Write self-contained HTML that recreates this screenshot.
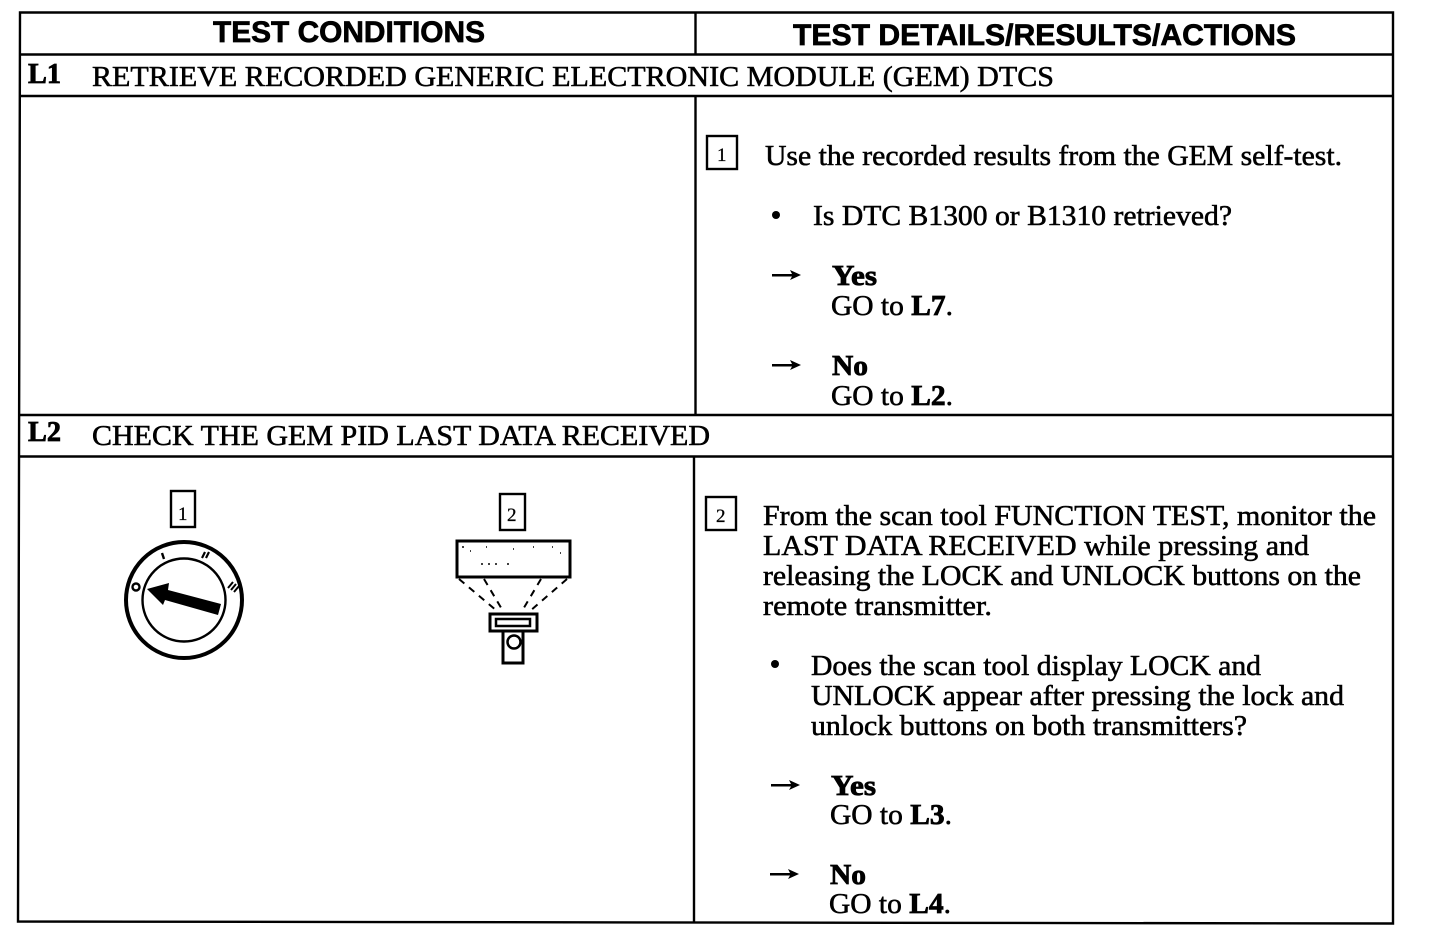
<!DOCTYPE html>
<html><head><meta charset="utf-8"><style>
html,body{margin:0;padding:0;background:#fff}
svg{display:block}
text{font-family:"Liberation Serif",serif;font-size:29px;fill:#000;stroke:#000;stroke-width:.55}
.b{font-weight:bold;stroke-width:.8}
.h{font-family:"Liberation Sans",sans-serif;font-weight:bold;font-size:30px;stroke-width:.7}
.s{font-size:19px;stroke-width:.3}
</style></head><body>
<svg width="1456" height="940" viewBox="0 0 1456 940" xmlns="http://www.w3.org/2000/svg">
<g fill="none" stroke="#000" stroke-width="2.400">
<path d="M20 12.500H1393V923.500L18 921.500Z"/>
<path d="M20 54.500H1393M20 96H1393M19 415H1393M19 456.500H1393"/>
<path d="M695.500 12V54M695.500 96V415M694 456V922"/>
<rect x="707" y="136" width="30" height="33"/>
<rect x="171" y="491" width="24" height="36"/>
<rect x="500" y="494" width="25" height="36"/>
<rect x="706" y="497" width="30" height="33"/>
</g>
<text class="h" x="213" y="42" textLength="272" lengthAdjust="spacingAndGlyphs">TEST CONDITIONS</text>
<text class="h" x="793" y="45" textLength="503" lengthAdjust="spacingAndGlyphs">TEST DETAILS/RESULTS/ACTIONS</text>
<text class="b" x="28" y="83" textLength="33" lengthAdjust="spacingAndGlyphs">L1</text>
<text x="92" y="86" textLength="962" lengthAdjust="spacingAndGlyphs">RETRIEVE RECORDED GENERIC ELECTRONIC MODULE (GEM) DTCS</text>
<text class="s" x="717" y="161">1</text>
<text x="765" y="165" textLength="577" lengthAdjust="spacingAndGlyphs">Use the recorded results from the GEM self-test.</text>
<circle cx="776" cy="215" r="4"/>
<text x="813" y="225" textLength="419" lengthAdjust="spacingAndGlyphs">Is DTC B1300 or B1310 retrieved?</text>
<g fill="#000" stroke="none">
<path d="M772 274H792L790 270L801 275L790 280L792 276.500H772Z"/>
<path d="M772 364H792L790 360L801 365L790 370L792 366.500H772Z"/>
<path d="M771 784H791L789 780L800 785L789 790L791 786.500H771Z"/>
<path d="M770 873H790L788 869L799 874L788 879L790 875.500H770Z"/>
</g>
<text class="b" x="832" y="285" textLength="45" lengthAdjust="spacingAndGlyphs">Yes</text>
<text x="831" y="315" textLength="122" lengthAdjust="spacingAndGlyphs">GO to <tspan class="b">L7</tspan>.</text>
<text class="b" x="832" y="375" textLength="36" lengthAdjust="spacingAndGlyphs">No</text>
<text x="831" y="405" textLength="122" lengthAdjust="spacingAndGlyphs">GO to <tspan class="b">L2</tspan>.</text>
<text class="b" x="28" y="441" textLength="33" lengthAdjust="spacingAndGlyphs">L2</text>
<text x="92" y="445" textLength="618" lengthAdjust="spacingAndGlyphs">CHECK THE GEM PID LAST DATA RECEIVED</text>
<text class="s" x="178" y="520">1</text>
<text class="s" x="507" y="521">2</text>
<text class="s" x="716" y="522">2</text>
<text x="763" y="525" textLength="613" lengthAdjust="spacingAndGlyphs">From the scan tool FUNCTION TEST, monitor the</text>
<text x="763" y="555" textLength="546" lengthAdjust="spacingAndGlyphs">LAST DATA RECEIVED while pressing and</text>
<text x="763" y="585" textLength="598" lengthAdjust="spacingAndGlyphs">releasing the LOCK and UNLOCK buttons on the</text>
<text x="763" y="615" textLength="229" lengthAdjust="spacingAndGlyphs">remote transmitter.</text>
<circle cx="775" cy="664" r="4"/>
<text x="811" y="675" textLength="450" lengthAdjust="spacingAndGlyphs">Does the scan tool display LOCK and</text>
<text x="811" y="705" textLength="533" lengthAdjust="spacingAndGlyphs">UNLOCK appear after pressing the lock and</text>
<text x="811" y="735" textLength="436" lengthAdjust="spacingAndGlyphs">unlock buttons on both transmitters?</text>
<text class="b" x="831" y="795" textLength="45" lengthAdjust="spacingAndGlyphs">Yes</text>
<text x="830" y="824" textLength="122" lengthAdjust="spacingAndGlyphs">GO to <tspan class="b">L3</tspan>.</text>
<text class="b" x="830" y="884" textLength="36" lengthAdjust="spacingAndGlyphs">No</text>
<text x="829" y="913" textLength="122" lengthAdjust="spacingAndGlyphs">GO to <tspan class="b">L4</tspan>.</text>
<g fill="none" stroke="#000">
<circle cx="184" cy="600" r="58" stroke-width="4"/>
<circle cx="184" cy="600" r="41.500" stroke-width="2.400"/>
<circle cx="136" cy="587" r="3.500" stroke-width="2.400"/>
<path d="M162 553L164 559" stroke-width="2.400"/>
<path d="M202 558L205 552M206 558L209 552" stroke-width="2.200"/>
<path d="M228 588L233 582M231 590L236 584M234 592L239 586" stroke-width="2"/>
</g>
<path d="M147 589L169 583L168 590L221 604L218 615L165 600L163 605Z" fill="#000"/>
<g fill="none" stroke="#000">
<rect x="457" y="541" width="113" height="36" stroke-width="3"/>
<path d="M459 579L497 611M484 579L503 611M567 579L530 611M541 579L522 611" stroke-width="2" stroke-dasharray="7 6"/>
<rect x="490" y="614" width="47" height="17" stroke-width="3"/>
<rect x="496" y="619" width="34" height="7" stroke-width="2.500"/>
<rect x="503" y="631" width="20" height="32" stroke-width="3"/>
<circle cx="514" cy="642" r="6.500" stroke-width="2.500"/>
</g>
<path d="M462 547h2M470 551h1M486 547h1M513 549h1M533 547h1M552 547h1M560 553h1M481 564h2M488 564h2M495 564h2M507 564h2" stroke="#000" stroke-width="1.500"/>
</svg>
</body></html>
